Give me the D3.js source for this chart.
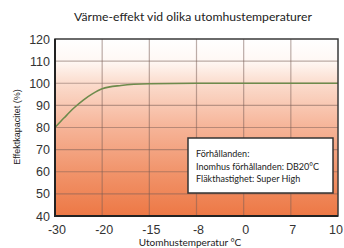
<!DOCTYPE html>
<html><head><meta charset="utf-8">
<script src="https://cdn.jsdelivr.net/npm/d3@7"></script>
<style>body{margin:0;background:#fff}svg{display:block}</style>
</head><body>
<svg id="c" width="344" height="248"></svg>
<script>
const xTicks = [-30, -20, -15, -8, 0, 7, 10];
const yTicks = [40, 50, 60, 70, 80, 90, 100, 110, 120];
const curveTemps = [-30, -28, -26, -24, -22, -20, -18, -15, -8, 0, 7, 10];
const curveValues = [80, 84.5, 88.8, 92.4, 95.3, 97.5, 99.0, 99.8, 100, 100, 100, 100];
const title = "Värme-effekt vid olika utomhustemperaturer";
const xLabel = "Utomhustemperatur °C";
const yLabel = "Effektkapacitet (%)";
const noteLines = ["Förhållanden:", "Inomhus förhållanden: DB20°C", "Fläkthastighet: Super High"];

const svg = d3.select("#c");
const L = 55, R = 338, T = 39, B = 216;
const step = (R - L) / (xTicks.length - 1);
const x = d3.scaleLinear().domain(xTicks).range(xTicks.map((d, i) => L + i * step));
const y = d3.scaleLinear().domain([40, 120]).range([B, T]);

const defs = svg.append("defs");
const g = defs.append("linearGradient").attr("id", "bg").attr("x1", 0).attr("y1", 0).attr("x2", 0).attr("y2", 1);
[[0, "#ffffff"], [(y(110) - T) / (B - T), "#fff8f4"], [(y(100) - T) / (B - T), "#fbdccd"],
 [(y(80) - T) / (B - T), "#f6b498"], [(y(60) - T) / (B - T), "#f1946b"], [1, "#ed7845"]]
  .forEach(([o, c]) => g.append("stop").attr("offset", o).attr("stop-color", c));

svg.append("rect").attr("x", L).attr("y", T).attr("width", R - L).attr("height", B - T).attr("fill", "url(#bg)");

// grid
svg.append("g").selectAll("line").data(yTicks.slice(1, -1)).join("line")
  .attr("x1", L).attr("x2", R).attr("y1", d => y(d)).attr("y2", d => y(d))
  .attr("stroke", "#7a5e56").attr("stroke-opacity", 0.5).attr("stroke-width", 1.2);
svg.append("g").selectAll("line").data(xTicks.slice(1, -1)).join("line")
  .attr("y1", T).attr("y2", B).attr("x1", d => x(d)).attr("x2", d => x(d))
  .attr("stroke", "#7a5e56").attr("stroke-opacity", 0.5).attr("stroke-width", 1.2);

// curve
const line = d3.line().x((d, i) => x(curveTemps[i])).y(d => y(d)).curve(d3.curveMonotoneX);
svg.append("path").datum(curveValues).attr("d", line).attr("fill", "none")
  .attr("stroke", "#6e8b4c").attr("stroke-width", 1.6);

// frame
svg.append("rect").attr("x", L).attr("y", T).attr("width", R - L).attr("height", B - T)
  .attr("fill", "none").attr("stroke", "#3a3a3a").attr("stroke-width", 1.5);
svg.append("line").attr("x1", L).attr("x2", L).attr("y1", T).attr("y2", B + 1).attr("stroke", "#222").attr("stroke-width", 2);
svg.append("line").attr("x1", L - 1).attr("x2", R).attr("y1", B).attr("y2", B).attr("stroke", "#222").attr("stroke-width", 2);

// axes labels
const font = "'Liberation Sans', Arial, sans-serif";
svg.append("g").selectAll("text").data(yTicks).join("text")
  .attr("x", 50).attr("y", d => y(d) + 4.5).attr("text-anchor", "end")
  .attr("font-family", font).attr("font-size", 12.5).attr("fill", "#333").text(d => d);
svg.append("g").selectAll("text").data(xTicks).join("text")
  .attr("x", (d, i) => i === xTicks.length - 1 ? 343 : x(d) + 2).attr("y", 233.5)
  .attr("text-anchor", (d, i) => i === xTicks.length - 1 ? "end" : "middle")
  .attr("font-family", font).attr("font-size", 12.5).attr("fill", "#333").text(d => d);

svg.append("text").attr("x", 193).attr("y", 21).attr("text-anchor", "middle")
  .attr("font-family", "Lato, 'Open Sans', sans-serif").attr("font-size", 12.2).attr("fill", "#222").text(title);
svg.append("text").attr("x", 190).attr("y", 246).attr("text-anchor", "middle")
  .attr("font-family", "Lato, sans-serif").attr("font-size", 10).attr("fill", "#222").text(xLabel);
svg.append("text").attr("transform", "translate(20,127) rotate(-90)").attr("text-anchor", "middle")
  .attr("font-family", "'Liberation Sans Narrow', Arial, sans-serif").attr("font-size", 9).attr("fill", "#222").text(yLabel);

// note box
svg.append("rect").attr("x", 188).attr("y", 138).attr("width", 145).attr("height", 55)
  .attr("fill", "#fff").attr("stroke", "#333").attr("stroke-width", 1.5);
svg.append("g").selectAll("text").data(noteLines).join("text")
  .attr("x", 196).attr("y", (d, i) => 157 + i * 12.5)
  .attr("font-family", "Lato, sans-serif").attr("font-size", 9).attr("fill", "#222").text(d => d);
</script>
</body></html>
